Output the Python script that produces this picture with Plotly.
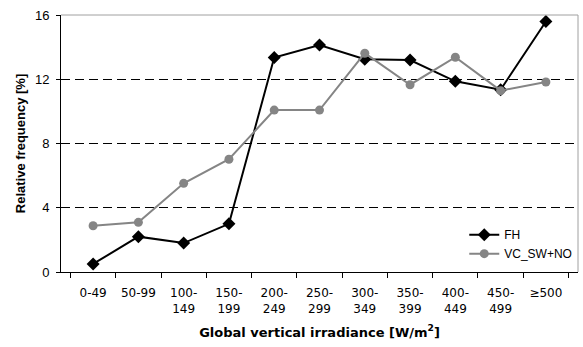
import plotly.graph_objects as go

categories = ["0-49", "50-99", "100-<br>149", "150-<br>199", "200-<br>249", "250-<br>299",
              "300-<br>349", "350-<br>399", "400-<br>449", "450-<br>499", "≥500"]
fh = [0.5, 2.2, 1.8, 3.0, 13.35, 14.13, 13.25, 13.2, 11.87, 11.35, 15.6]
vc = [2.88, 3.09, 5.52, 7.02, 10.08, 10.08, 13.62, 11.66, 13.37, 11.29, 11.83]
y_ticks = [0, 4, 8, 12, 16]

fig = go.Figure()
fig.add_trace(go.Scatter(x=categories, y=fh, name="FH", mode="lines+markers",
                         line=dict(color="black", width=2),
                         marker=dict(symbol="diamond", size=10, color="black")))
fig.add_trace(go.Scatter(x=categories, y=vc, name="VC_SW+NO", mode="lines+markers",
                         line=dict(color="#858585", width=2),
                         marker=dict(symbol="circle", size=9, color="#858585")))

fig.update_layout(
    width=583, height=347,
    margin=dict(l=61, r=5, t=15, b=75),
    paper_bgcolor="white", plot_bgcolor="white",
    font=dict(family="Liberation Sans, Arial, sans-serif", size=13, color="black"),
    showlegend=True,
    legend=dict(x=0.78, y=0.015, xanchor="left", yanchor="bottom",
                bgcolor="rgba(0,0,0,0)", font=dict(size=12), tracegroupgap=0,
                itemwidth=30),
    xaxis=dict(type="category", tickson="boundaries", ticks="outside", ticklen=5,
               tickcolor="black", showline=True, linecolor="black", linewidth=1,
               showgrid=False, tickangle=0, ticklabelstandoff=10,
               tickfont=dict(family="DejaVu Sans", size=12),
               title=dict(text="<b>Global vertical irradiance [W/m<sup>2</sup>]</b>",
                          font=dict(family="DejaVu Sans", size=13), standoff=12)),
    yaxis=dict(range=[0, 16], tickvals=y_ticks, ticks="outside", ticklen=4,
               tickcolor="black", showline=True, linecolor="black", linewidth=1,
               showgrid=True, gridcolor="black", gridwidth=1, griddash="9px,5px",
               zeroline=False, ticklabelstandoff=4, tickfont=dict(size=13),
               title=dict(text="<b>Relative frequency [%]</b>", font=dict(size=13), standoff=6)),
)
# plot area frame (top and right) in gray
fig.add_shape(type="line", xref="paper", yref="paper", x0=0, x1=1, y0=1, y1=1,
              line=dict(color="#a0a0a0", width=1))
fig.add_shape(type="line", xref="paper", yref="paper", x0=1, x1=1, y0=0, y1=1,
              line=dict(color="#a0a0a0", width=1))

fig.write_html("out.html")
